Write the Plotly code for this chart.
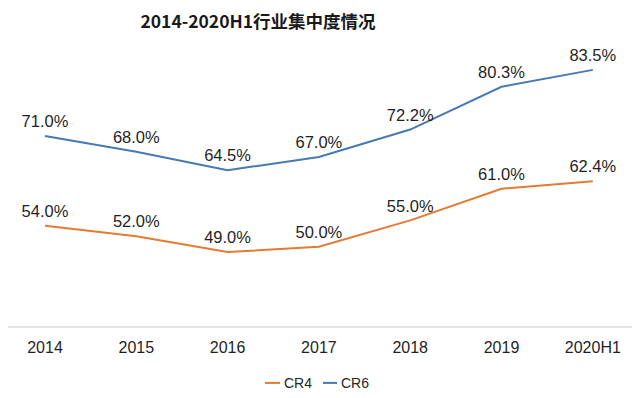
import plotly.graph_objects as go

categories = ["2014", "2015", "2016", "2017", "2018", "2019", "2020H1"]
cr4 = [54.0, 52.0, 49.0, 50.0, 55.0, 61.0, 62.4]
cr6 = [71.0, 68.0, 64.5, 67.0, 72.2, 80.3, 83.5]
series_names = ["CR4", "CR6"]

colors = {"CR4": "#E47B32", "CR6": "#4779B2"}
label_font = dict(size=16.5, color="#1f1f1f", family="Liberation Sans, Arial")

# page body has an 8px margin, so the figure is 8px smaller than the window
W, H = 632, 390
PW, PH = 630, 301.5  # plot area size in px

fig = go.Figure()
for name, vals in zip(series_names, (cr4, cr6)):
    fig.add_trace(go.Scatter(
        x=categories, y=vals, name=name, mode="lines+markers+text",
        line=dict(color=colors[name], width=2),
        marker=dict(size=6, opacity=0),
        text=[f"{v:.1f}%" for v in vals], textposition="top center",
        textfont=label_font, cliponaxis=False, hoverinfo="skip",
        showlegend=False,
    ))

# compact legend (short line + label), as in the reference
leg_y = -(375 - 318) / PH
leg_items = [(257, 272, 274), (315, 329, 331)]
for name, (lx0, lx1, tx) in zip(series_names, leg_items):
    fig.add_shape(type="line", xref="paper", yref="paper",
                  x0=lx0 / PW, x1=lx1 / PW, y0=leg_y, y1=leg_y,
                  line=dict(color=colors[name], width=2))
    fig.add_annotation(xref="paper", yref="paper", x=tx / PW, y=leg_y,
                       text=name, showarrow=False, xanchor="left", yanchor="middle",
                       font=dict(size=14, color="#262626",
                                 family="Liberation Sans Narrow, Liberation Sans, Arial"))

fig.update_layout(
    width=W, height=H,
    margin=dict(l=0, r=2, t=16.5, b=72),
    paper_bgcolor="white", plot_bgcolor="white",
    title=dict(text="<b>2014-2020H1行业集中度情况</b>", x=250 / W, xanchor="center",
               y=1 - 13.5 / H, yanchor="middle",
               font=dict(size=17.5, color="#1a1a1a", family="Noto Sans CJK SC")),
    font=dict(family="Liberation Sans, Arial", color="#262626"),
    xaxis=dict(type="category", range=[-0.405, 6.495], showgrid=False, showline=True,
               linecolor="#E3E3E3", linewidth=1.5, ticks="",
               tickfont=dict(size=16, color="#1f1f1f", family="Liberation Sans, Arial"),
               ticklabelstandoff=6),
    yaxis=dict(range=[35, 92], visible=False),
    showlegend=False,
)

fig.write_html("out.html")
